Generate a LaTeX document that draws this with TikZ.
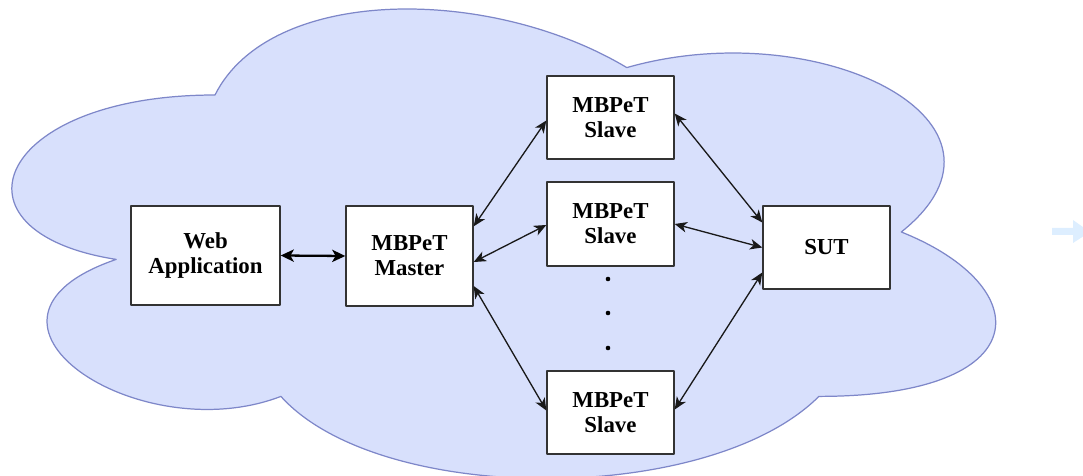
\documentclass[tikz,border=0pt]{standalone}
\usepackage{fontspec}
\setmainfont{Liberation Serif}
\usetikzlibrary{arrows.meta,calc}
\definecolor{cloudfill}{HTML}{D8E0FC}
\definecolor{cloudline}{HTML}{7E87C9}
\definecolor{hintblue}{HTML}{DDEEFF}
\begin{document}
\begin{tikzpicture}[x=0.02cm,y=-0.02cm,line join=round,font=\fontsize{13}{14.2}\selectfont\bfseries,>={Stealth[length=7pt,width=6pt,inset=2pt]}]
\tikzset{box/.style={draw=black!80,fill=white,line width=0.8pt,align=center,inner sep=0pt},
  wide/.style={box,minimum width=2.54cm},
  link/.style={<->,line width=0.75pt,black!90},
  biglink/.style={<->,line width=1.3pt,>={Stealth[length=7.5pt,width=7pt,inset=2pt]}}}
\useasboundingbox (0,0) rectangle (1083,476);
% cloud
\draw[fill=cloudfill,draw=cloudline,line width=0.7pt] (215,95)
  .. controls (-4.6,95) and (-59.5,232) .. (116.2,259.4)
  .. controls (-59.5,319.7) and (138.1,451.2) .. (280.9,396.4)
  .. controls (379.7,506) and (709.1,506) .. (818.9,396.4)
  .. controls (1038.5,396.4) and (1038.5,286.8) .. (901.3,232)
  .. controls (1038.5,122.4) and (818.9,12.8) .. (626.8,67.6)
  .. controls (489.5,-14.6) and (269.9,-14.6) .. (215,95) -- cycle;
% faint arrow at the edge
\fill[hintblue] (1052,228)--(1073,228)--(1073,220)--(1090,232)--(1073,243)--(1073,235)--(1052,235)--cycle;
% boxes
\node[box,minimum width=2.98cm,minimum height=1.98cm] (web) at (205.5,255.5) {Web\\Application};
\node[wide,minimum height=2cm] (master) at (409.5,256) {MBPeT\\Master};
\node[wide,minimum height=1.66cm] (slaveA) at (610.5,117.5) {MBPeT\\Slave};
\node[wide,minimum height=1.68cm] (slaveB) at (610.5,224) {MBPeT\\Slave};
\node[wide,minimum height=1.66cm] (slaveC) at (610.5,412.5) {MBPeT\\Slave};
\node[wide,minimum height=1.66cm] (sut) at (826.5,247.5) {SUT};
\foreach \y in {279,313,348}
\fill (608,\y) circle (1.3pt);
% connectors
\draw[biglink] (web.east) -- (master.west);
\draw[link] ($(master.north east)+(0,21)$) -- ($(slaveA.west)+(0,3)$);
\draw[link] ($(master.east)+(0,6)$) -- ($(slaveB.west)+(0,1)$);
\draw[link] ($(master.east)+(0,30)$) -- ($(slaveC.west)+(0,-2)$);
\draw[link] ($(slaveA.east)+(0,-4)$) -- ($(sut.west)+(0,-25)$);
\draw[link] (slaveB.east) -- (sut.west);
\draw[link] ($(slaveC.east)+(0,-3)$) -- ($(sut.west)+(0,25)$);
\end{tikzpicture}
\end{document}
